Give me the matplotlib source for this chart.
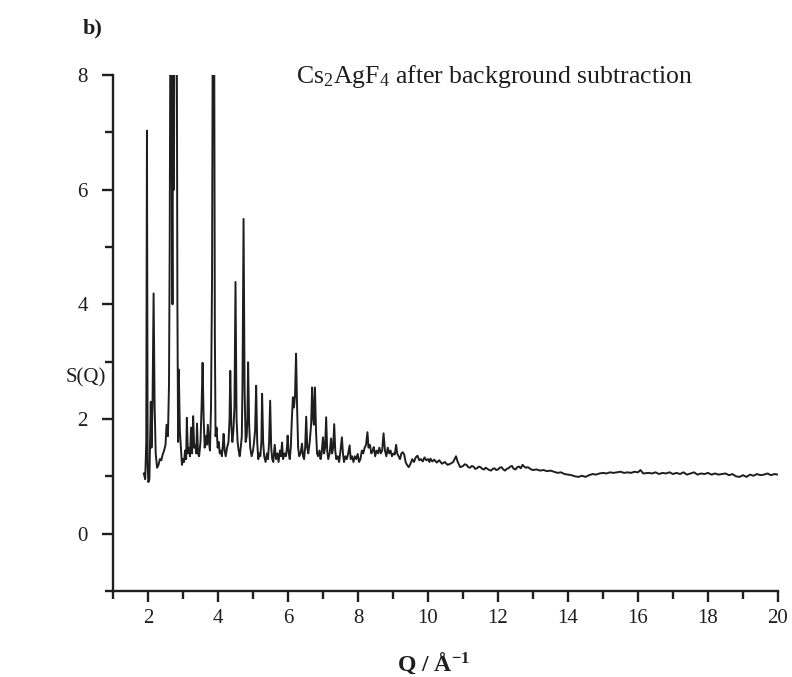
import matplotlib
matplotlib.use("Agg")
import matplotlib.pyplot as plt
from matplotlib.ticker import MultipleLocator

# S(Q) of Cs2AgF4 after background subtraction
q = [1.88, 1.92, 1.95, 1.97, 1.99, 2.01, 2.04, 2.06, 2.08, 2.10, 2.13, 2.16, 2.19, 2.22,
     2.26, 2.30, 2.34, 2.38, 2.42, 2.46, 2.50, 2.53, 2.57, 2.60, 2.62, 2.64, 2.66, 2.68,
     2.70, 2.72, 2.74, 2.76, 2.78, 2.80, 2.82, 2.84, 2.86, 2.88, 2.91, 2.94, 2.97, 3.00,
     3.03, 3.06, 3.09, 3.11, 3.14, 3.17, 3.20, 3.23, 3.26, 3.29, 3.32, 3.35, 3.38, 3.40,
     3.43, 3.46, 3.50, 3.53, 3.56, 3.59, 3.62, 3.65, 3.68, 3.71, 3.74, 3.77, 3.80, 3.83,
     3.85, 3.87, 3.89, 3.91, 3.93, 3.96, 3.99, 4.02, 4.05, 4.08, 4.11, 4.14, 4.16, 4.19,
     4.22, 4.26, 4.30, 4.33, 4.35, 4.38, 4.41, 4.44, 4.47, 4.50, 4.53, 4.56, 4.59, 4.62,
     4.65, 4.68, 4.70, 4.73, 4.76, 4.79, 4.82, 4.84, 4.86, 4.89, 4.92, 4.96, 5.00, 5.03,
     5.06, 5.09, 5.12, 5.15, 5.18, 5.21, 5.24, 5.26, 5.29, 5.32, 5.36, 5.40, 5.43, 5.46,
     5.49, 5.52, 5.55, 5.58, 5.62, 5.66, 5.70, 5.73, 5.77, 5.80, 5.83, 5.86, 5.90, 5.94,
     5.97, 5.99, 6.02, 6.05, 6.08, 6.11, 6.14, 6.17, 6.20, 6.23, 6.26, 6.29, 6.32, 6.36,
     6.40, 6.43, 6.46, 6.49, 6.52, 6.55, 6.58, 6.62, 6.66, 6.69, 6.72, 6.74, 6.77, 6.80,
     6.83, 6.86, 6.90, 6.93, 6.96, 7.00, 7.03, 7.06, 7.09, 7.12, 7.15, 7.19, 7.23, 7.26,
     7.29, 7.32, 7.35, 7.38, 7.42, 7.46, 7.50, 7.54, 7.57, 7.60, 7.64, 7.68, 7.72, 7.76,
     7.79, 7.83, 7.87, 7.91, 7.95, 7.99, 8.03, 8.07, 8.11, 8.15, 8.19, 8.23, 8.27, 8.30,
     8.34, 8.38, 8.42, 8.45, 8.49, 8.53, 8.57, 8.61, 8.65, 8.69, 8.73, 8.77, 8.81, 8.85,
     8.89, 8.93, 8.97, 9.01, 9.05, 9.09, 9.12, 9.16, 9.20, 9.24, 9.28, 9.32, 9.36, 9.40,
     9.45, 9.50, 9.55, 9.60, 9.65, 9.70, 9.75, 9.80, 9.85, 9.90, 9.95, 10.00, 10.04,
     10.07, 10.12, 10.18, 10.25, 10.32, 10.40, 10.48, 10.56, 10.64, 10.72, 10.80, 10.85,
     10.92, 11.0, 11.05, 11.1, 11.15, 11.2, 11.25, 11.3, 11.35, 11.4, 11.45, 11.5, 11.55,
     11.6, 11.65, 11.7, 11.75, 11.8, 11.85, 11.9, 11.95, 12.0, 12.05, 12.1, 12.15, 12.2,
     12.25, 12.3, 12.35, 12.4, 12.45, 12.5, 12.55, 12.6, 12.65, 12.7, 12.75, 12.8, 12.85,
     12.9, 12.95, 13.0, 13.1, 13.2, 13.3, 13.4, 13.5, 13.6, 13.7, 13.8, 13.9, 14.0, 14.1,
     14.2, 14.3, 14.4, 14.5, 14.6, 14.7, 14.8, 14.9, 15.0, 15.1, 15.2, 15.3, 15.4, 15.5,
     15.6, 15.7, 15.8, 15.9, 16.0, 16.07, 16.15, 16.3, 16.4, 16.5, 16.6, 16.7, 16.8, 16.9,
     17.0, 17.1, 17.2, 17.3, 17.4, 17.5, 17.6, 17.7, 17.8, 17.9, 18.0, 18.1, 18.2, 18.3,
     18.4, 18.5, 18.6, 18.7, 18.8, 18.9, 19.0, 19.1, 19.2, 19.3, 19.4, 19.5, 19.6, 19.7,
     19.8, 19.9, 20.0]

s = [1.05, 0.95, 1.6, 7.03, 1.2, 0.9, 0.95, 1.6, 2.3, 1.5, 2.3, 4.19, 2.2, 1.4,
     1.15, 1.2, 1.3, 1.28, 1.38, 1.45, 1.55, 1.9, 1.7, 2.6, 5.0, 9.0, 9.5, 6.5,
     4.0, 9.0, 6.0, 9.5, 9.5, 9.0, 9.5, 4.0, 1.6, 2.86, 1.8, 1.5, 1.2, 1.3,
     1.25, 1.45, 1.3, 2.02, 1.4, 1.5, 1.35, 1.85, 1.4, 2.05, 1.5, 1.55, 1.4, 1.92,
     1.4, 1.35, 1.6, 2.2, 2.98, 2.0, 1.5, 1.7, 1.55, 1.9, 1.6, 1.45, 2.2, 4.5,
     9.0, 9.0, 9.0, 3.5, 1.7, 1.85, 1.5, 1.6, 1.4, 1.45, 1.35, 1.55, 1.74, 1.45,
     1.35, 1.5, 1.6, 2.0, 2.84, 1.9, 1.6, 1.8, 2.2, 4.39, 2.0, 1.6, 1.45, 1.35,
     1.5, 1.7, 2.6, 5.49, 2.5, 1.6, 1.7, 2.0, 2.99, 1.9, 1.5, 1.35, 1.45, 1.6,
     1.8, 2.58, 1.6, 1.3, 1.4, 1.35, 1.6, 2.44, 1.6, 1.35, 1.25, 1.4, 1.3, 1.6,
     2.32, 1.5, 1.3, 1.25, 1.55, 1.3, 1.4, 1.25, 1.45, 1.35, 1.59, 1.3, 1.4, 1.35,
     1.5, 1.71, 1.4, 1.3, 1.5, 2.0, 2.38, 2.2, 2.4, 3.14, 2.2, 1.5, 1.35, 1.4,
     1.57, 1.35, 1.3, 1.5, 2.04, 1.5, 1.4, 1.6, 1.9, 2.55, 2.0, 1.9, 2.55, 1.8,
     1.4, 1.35, 1.45, 1.3, 1.4, 1.68, 1.4, 1.5, 2.03, 1.45, 1.3, 1.4, 1.66, 1.4,
     1.5, 1.91, 1.45, 1.3, 1.35, 1.25, 1.45, 1.68, 1.4, 1.25, 1.35, 1.3, 1.4, 1.54,
     1.3, 1.35, 1.25, 1.35, 1.3, 1.39, 1.25, 1.3, 1.45, 1.4, 1.5, 1.55, 1.77, 1.5,
     1.55, 1.4, 1.45, 1.51, 1.35, 1.45, 1.4, 1.5, 1.4, 1.45, 1.75, 1.45, 1.35, 1.5,
     1.4, 1.45, 1.35, 1.4, 1.38, 1.55, 1.4, 1.35, 1.3, 1.4, 1.42, 1.38, 1.25, 1.2,
     1.16, 1.22, 1.3, 1.25, 1.33, 1.36, 1.28, 1.3, 1.26, 1.33, 1.28, 1.3, 1.25,
     1.31, 1.26, 1.29, 1.24, 1.28, 1.22, 1.25, 1.2, 1.22, 1.25, 1.35, 1.25,
     1.16, 1.18, 1.21, 1.2, 1.16, 1.15, 1.18, 1.17, 1.13, 1.14, 1.17, 1.16, 1.13,
     1.12, 1.15, 1.13, 1.11, 1.10, 1.13, 1.14, 1.11, 1.12, 1.15, 1.16, 1.12, 1.1,
     1.13, 1.14, 1.17, 1.18, 1.13, 1.12, 1.16, 1.17, 1.14, 1.2, 1.17, 1.15, 1.16,
     1.14, 1.12, 1.11, 1.12, 1.1, 1.11, 1.09, 1.1, 1.08, 1.06, 1.07, 1.04, 1.03, 1.02,
     1.0, 0.99, 1.01, 0.99, 1.02, 1.04, 1.03, 1.05, 1.06, 1.05, 1.07, 1.06, 1.07, 1.08,
     1.06, 1.07, 1.06, 1.08, 1.07, 1.11, 1.05, 1.06, 1.05, 1.07, 1.04, 1.06, 1.05, 1.07,
     1.04, 1.06, 1.04, 1.07, 1.03, 1.05, 1.07, 1.03, 1.05, 1.04, 1.06, 1.03, 1.05, 1.03,
     1.04, 1.05, 1.02, 1.04, 1.0, 0.99, 1.02, 0.99, 1.03, 1.01, 1.04, 1.02, 1.03, 1.05,
     1.02, 1.04, 1.03]

x_ticks = [2, 4, 6, 8, 10, 12, 14, 16, 18, 20]
y_ticks = [0, 2, 4, 6, 8]

plt.rcParams['font.family'] = ['Liberation Serif', 'DejaVu Serif']
plt.rcParams['mathtext.default'] = 'regular'

fig = plt.figure(figsize=(7.92, 6.77), dpi=100)
ax = fig.add_axes([113 / 792, 1 - 591 / 677, 665 / 792, 516 / 677])

ax.plot(q, s, color='#1e1e1e', lw=1.4)

ax.set_xlim(1, 20)
ax.set_ylim(-1, 8)
ax.set_xticks(x_ticks)
ax.set_yticks(y_ticks)
ax.xaxis.set_minor_locator(MultipleLocator(1))
ax.yaxis.set_minor_locator(MultipleLocator(1))

for side in ['top', 'right']:
    ax.spines[side].set_visible(False)
for side in ['left', 'bottom']:
    ax.spines[side].set_linewidth(1.7)
    ax.spines[side].set_color('#1e1e1e')

ax.tick_params(which='major', direction='out', length=8, width=1.7,
               labelsize=15, colors='#1e1e1e')
ax.tick_params(which='minor', direction='out', length=6, width=1.7, colors='#1e1e1e')
ax.tick_params(axis='x', which='major', pad=5)
ax.tick_params(axis='y', which='major', pad=10)

fig.text(296 / 792, 1 - 83 / 677, 'Cs$_2$AgF$_4$ after background subtraction',
         fontsize=18.5, color='#1e1e1e', va='baseline', ha='left')
fig.text(66 / 792, 1 - 378 / 677, 'S(Q)', fontsize=15, color='#1e1e1e',
         va='center', ha='left')
fig.text(433 / 792, 1 - 663 / 677, 'Q / Å$^{-1}$', fontsize=17, color='#1e1e1e',
         fontweight='bold', va='center', ha='center')
fig.text(83 / 792, 1 - 28 / 677, 'b)', fontsize=16, fontweight='bold',
         color='#1e1e1e', va='center', ha='left')

fig.savefig('out.png', dpi=100)
